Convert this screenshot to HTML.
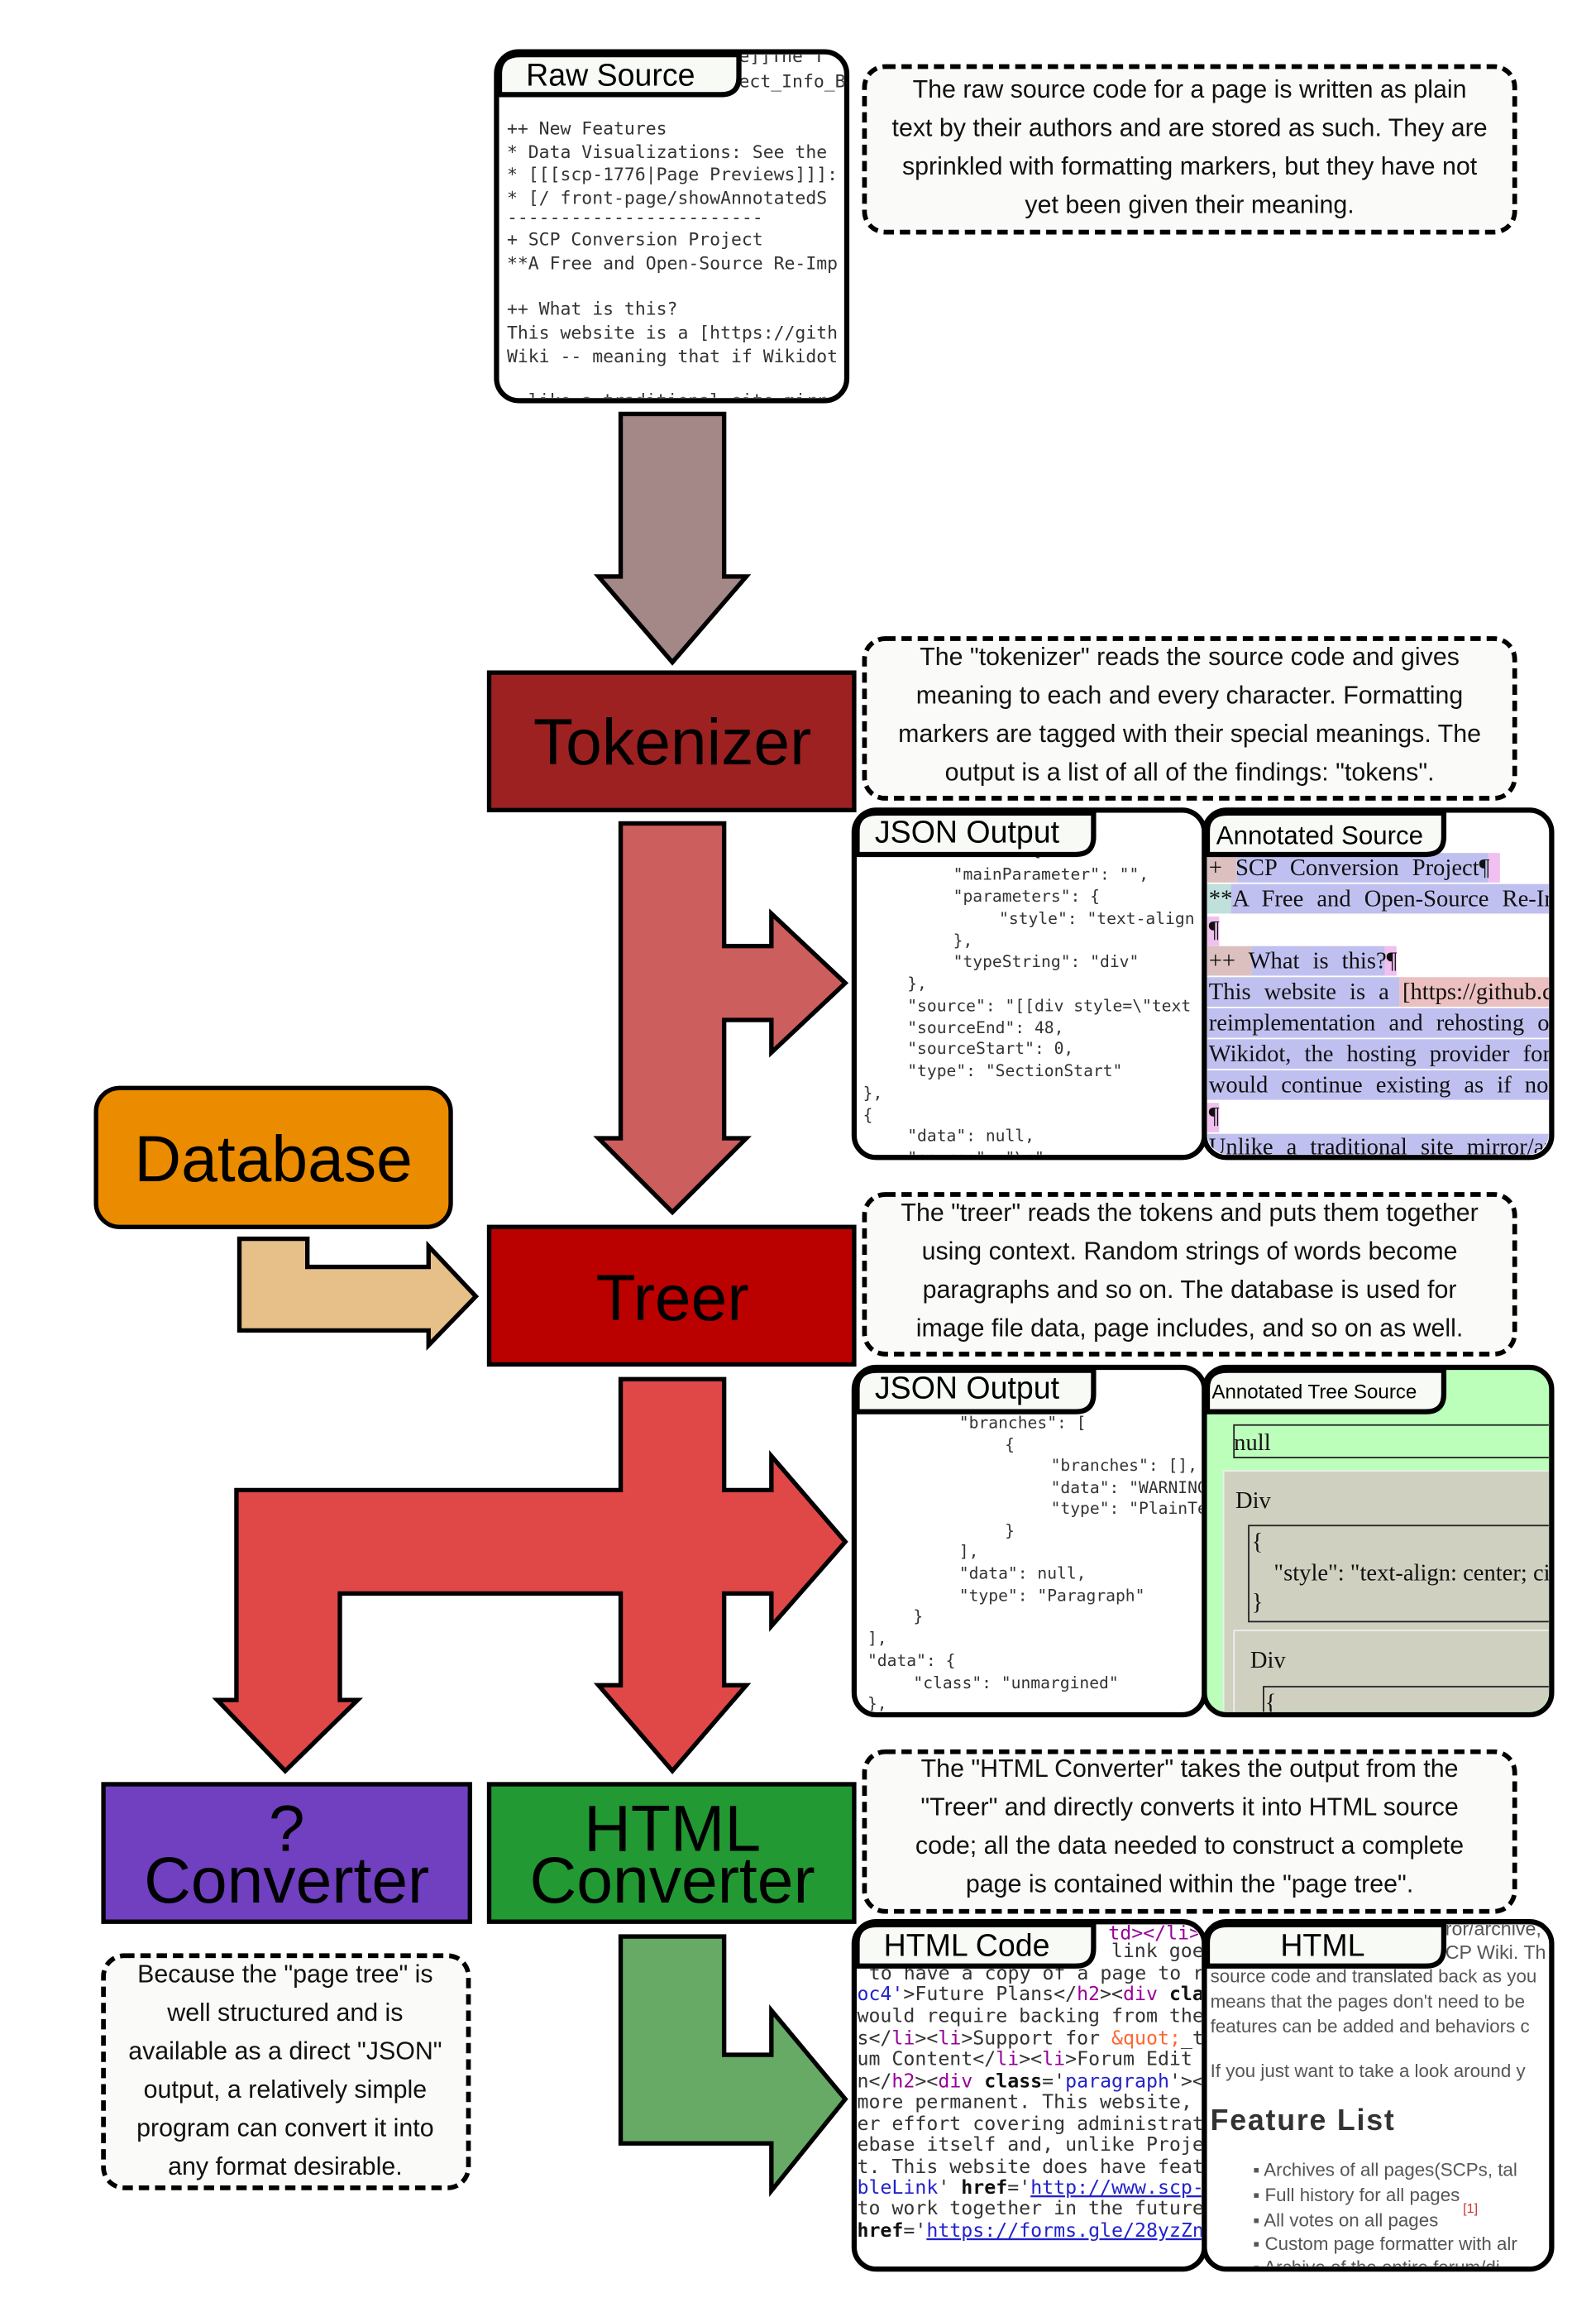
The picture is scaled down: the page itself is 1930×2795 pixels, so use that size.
<!DOCTYPE html>
<html><head><meta charset="utf-8"><style>
html,body{margin:0;padding:0;background:#fff;}
svg{display:block;}
.m{font-family:"DejaVu Sans Mono","Liberation Mono",monospace;fill:#333;}
.s{font-family:"Liberation Serif",serif;fill:#111;}
.a{font-family:"Liberation Sans",sans-serif;}
</style></head><body>
<svg width="1930" height="2795" viewBox="0 0 1080 1564" xmlns="http://www.w3.org/2000/svg">
<defs>
<clipPath id="c1"><rect x="338" y="37" width="233" height="232" rx="14"/></clipPath>
<clipPath id="c2"><rect x="580" y="550" width="233" height="231" rx="14"/></clipPath>
<clipPath id="c3"><rect x="817" y="550" width="231" height="231" rx="14"/></clipPath>
<clipPath id="c4"><rect x="580" y="927" width="233" height="231" rx="14"/></clipPath>
<clipPath id="c5"><rect x="817" y="927" width="231" height="231" rx="14"/></clipPath>
<clipPath id="c6"><rect x="580" y="1302" width="233" height="231" rx="14"/></clipPath>
<clipPath id="c7"><rect x="817" y="1302" width="231" height="231" rx="14"/></clipPath>
</defs>
<rect width="1080" height="1564" fill="#fff"/>

<!-- Raw source panel -->
<rect x="336" y="35" width="237" height="236" rx="15" fill="#fff"/>
<g clip-path="url(#c1)" class="m" font-size="12">
<text x="500" y="42">e]]The T</text>
<text x="500" y="59">ect_Info_B</text>
<text x="343" y="91">++ New Features</text>
<text x="343" y="107">* Data Visualizations: See the</text>
<text x="343" y="122">* [[[scp-1776|Page Previews]]]:</text>
<text x="343" y="138">* [/  front-page/showAnnotatedS</text>
<text x="343" y="151">------------------------</text>
<text x="343" y="166">+ SCP Conversion Project</text>
<text x="343" y="182">**A Free and Open-Source Re-Imp</text>
<text x="343" y="213">++ What is this?</text>
<text x="343" y="229">This website is a [https://gith</text>
<text x="343" y="245">Wiki -- meaning that if Wikidot</text>
<text x="343" y="275">, like a traditional site mirr</text>
</g>
<rect x="336" y="35" width="237" height="236" rx="15" fill="none" stroke="#000" stroke-width="3.5"/>
<path d="M338,64 L338,50 Q338,37 352,37 L500,37 L500,52 Q500,64 488,64 Z" fill="#f8faf6" stroke="#000" stroke-width="3.5"/>
<text x="356" y="58" class="a" font-size="21">Raw Source</text>

<!-- Bubbles -->
<g fill="#fafbf8" stroke="#000" stroke-width="3.2" stroke-dasharray="7 4">
<rect x="585" y="45" width="440" height="112" rx="14"/>
<rect x="585" y="432" width="440" height="108" rx="14"/>
<rect x="585" y="808" width="440" height="108" rx="14"/>
<rect x="585" y="1185" width="440" height="108" rx="14"/>
<rect x="70" y="1323" width="247" height="157" rx="14"/>
</g>
<g class="a" font-size="17" text-anchor="middle" fill="#111">
<text x="805" y="66">The raw source code for a page is written as plain</text>
<text x="805" y="92">text by their authors and are stored as such. They are</text>
<text x="805" y="118">sprinkled with formatting markers, but they have not</text>
<text x="805" y="144">yet been given their meaning.</text>
<text x="805" y="450">The "tokenizer" reads the source code and gives</text>
<text x="805" y="476">meaning to each and every character. Formatting</text>
<text x="805" y="502">markers are tagged with their special meanings. The</text>
<text x="805" y="528">output is a list of all of the findings: "tokens".</text>
<text x="805" y="826">The "treer" reads the tokens and puts them together</text>
<text x="805" y="852">using context. Random strings of words become</text>
<text x="805" y="878">paragraphs and so on. The database is used for</text>
<text x="805" y="904">image file data, page includes, and so on as well.</text>
<text x="805" y="1202">The "HTML Converter" takes the output from the</text>
<text x="805" y="1228">"Treer" and directly converts it into HTML source</text>
<text x="805" y="1254">code; all the data needed to construct a complete</text>
<text x="805" y="1280">page is contained within the "page tree".</text>
<text x="193" y="1341">Because the "page tree" is</text>
<text x="193" y="1367">well structured and is</text>
<text x="193" y="1393">available as a direct "JSON"</text>
<text x="193" y="1419">output, a relatively simple</text>
<text x="193" y="1445">program can convert it into</text>
<text x="193" y="1471">any format desirable.</text>
</g>

<!-- Arrows -->
<g stroke="#000" stroke-width="3" stroke-linejoin="miter">
<polygon fill="#a48888" points="420,280 490,280 490,390 505,390 455,448 405,390 420,390"/>
<polygon fill="#cd5e5e" points="420,557 490,557 490,640 522,640 522,618 572,665 522,712 522,690 490,690 490,770 505,770 455,820 405,770 420,770"/>
<polygon fill="#e6c088" points="162,838 208,838 208,857 290,857 290,843 322,877 290,910 290,900 162,900"/>
<polygon fill="#e04848" points="420,933 490,933 490,1008 522,1008 522,985 572,1043 522,1100 522,1078 490,1078 490,1140 505,1140 455,1198 405,1140 420,1140 420,1078 230,1078 230,1150 242,1150 193,1198 147,1150 160,1150 160,1008 420,1008"/>
<polygon fill="#66aa66" points="420,1310 490,1310 490,1390 522,1390 522,1360 572,1420 522,1482 522,1450 420,1450"/>
</g>

<!-- Process boxes -->
<g stroke="#000" stroke-width="3">
<rect x="331" y="455" width="247" height="93" fill="#9e2121"/>
<rect x="331" y="830" width="247" height="93" fill="#bb0000"/>
<rect x="70" y="1207" width="248" height="93" fill="#7040c0"/>
<rect x="331" y="1207" width="247" height="93" fill="#229933"/>
<rect x="65" y="736" width="240" height="94" rx="16" fill="#eb8c00"/>
</g>
<g class="a" text-anchor="middle" fill="#000">
<text x="455" y="517" font-size="44">Tokenizer</text>
<text x="455" y="893" font-size="44">Treer</text>
<text x="185" y="799" font-size="44">Database</text>
<text x="194" y="1252" font-size="44">?</text>
<text x="194" y="1287" font-size="44">Converter</text>
<text x="455" y="1252" font-size="44">HTML</text>
<text x="455" y="1287" font-size="44">Converter</text>
</g>

<!-- JSON Output 1 -->
<rect x="578" y="548" width="237" height="235" rx="15" fill="#fff"/>
<g clip-path="url(#c2)" class="m" font-size="11">
<text x="645" y="579">"data": {</text>
<text x="645" y="595">"mainParameter": "",</text>
<text x="645" y="610">"parameters": {</text>
<text x="676" y="625">"style": "text-align</text>
<text x="645" y="640">},</text>
<text x="645" y="654">"typeString": "div"</text>
<text x="614" y="669">},</text>
<text x="614" y="684">"source": "[[div style=\"text</text>
<text x="614" y="699">"sourceEnd": 48,</text>
<text x="614" y="713">"sourceStart": 0,</text>
<text x="614" y="728">"type": "SectionStart"</text>
<text x="584" y="743">},</text>
<text x="584" y="758">{</text>
<text x="614" y="772">"data": null,</text>
<text x="614" y="787">"source": "\n",</text>
</g>
<rect x="578" y="548" width="237" height="235" rx="15" fill="none" stroke="#000" stroke-width="3.5"/>
<path d="M580,578 L580,562 Q580,550 594,550 L740,550 L740,566 Q740,578 728,578 Z" fill="#f8faf6" stroke="#000" stroke-width="3.5"/>
<text x="592" y="570" class="a" font-size="21">JSON Output</text>

<!-- Annotated Source -->
<rect x="815" y="548" width="235" height="235" rx="15" fill="#fff"/>
<g clip-path="url(#c3)">
<rect x="817" y="577" width="20" height="20" fill="#dcc0c0"/>
<rect x="837" y="577" width="170" height="20" fill="#c0c0f0"/>
<rect x="1007" y="577" width="8" height="20" fill="#f0c0f0"/>
<rect x="817" y="598" width="16" height="20" fill="#c0e0dc"/>
<rect x="833" y="598" width="220" height="20" fill="#c0c0f0"/>
<rect x="817" y="620" width="8" height="20" fill="#f0c0f0"/>
<rect x="817" y="640" width="30" height="20" fill="#dcc0c0"/>
<rect x="847" y="640" width="90" height="20" fill="#c0c0f0"/>
<rect x="937" y="640" width="8" height="20" fill="#f0c0f0"/>
<rect x="817" y="661" width="130" height="20" fill="#c0c0f0"/>
<rect x="947" y="661" width="106" height="20" fill="#ecc0c0"/>
<rect x="817" y="682" width="236" height="20" fill="#c0c0f0"/>
<rect x="817" y="703" width="236" height="20" fill="#c0c0f0"/>
<rect x="817" y="724" width="236" height="20" fill="#c0c0f0"/>
<rect x="817" y="746" width="8" height="20" fill="#f0c0f0"/>
<rect x="817" y="767" width="236" height="20" fill="#c0c0f0"/>
<g class="s" font-size="16" word-spacing="5">
<text x="818" y="592">+ SCP Conversion Project¶</text>
<text x="818" y="613">**A Free and Open-Source Re-Imp</text>
<text x="818" y="634">¶</text>
<text x="818" y="655">++ What is this?¶</text>
<text x="818" y="676">This website is a [https://github.com</text>
<text x="818" y="697">reimplementation and rehosting of</text>
<text x="818" y="718">Wikidot, the hosting provider for</text>
<text x="818" y="739">would continue existing as if not</text>
<text x="818" y="760">¶</text>
<text x="818" y="781">Unlike a traditional site mirror/ar</text>
</g>
</g>
<rect x="815" y="548" width="235" height="235" rx="15" fill="none" stroke="#000" stroke-width="3.5"/>
<path d="M817,578 L817,562 Q817,550 831,550 L977,550 L977,566 Q977,578 965,578 Z" fill="#f8faf6" stroke="#000" stroke-width="3.5"/>
<text x="823" y="571" class="a" font-size="17.5">Annotated Source</text>

<!-- JSON Output 2 -->
<rect x="578" y="925" width="237" height="235" rx="15" fill="#fff"/>
<g clip-path="url(#c4)" class="m" font-size="11">
<text x="649" y="966">"branches": [</text>
<text x="680" y="981">{</text>
<text x="711" y="995">"branches": [],</text>
<text x="711" y="1010">"data": "WARNING</text>
<text x="711" y="1024">"type": "PlainText"</text>
<text x="680" y="1039">}</text>
<text x="649" y="1053">],</text>
<text x="649" y="1068">"data": null,</text>
<text x="649" y="1083">"type": "Paragraph"</text>
<text x="618" y="1097">}</text>
<text x="587" y="1112">],</text>
<text x="587" y="1127">"data": {</text>
<text x="618" y="1142">"class": "unmargined"</text>
<text x="587" y="1156">},</text>
</g>
<rect x="578" y="925" width="237" height="235" rx="15" fill="none" stroke="#000" stroke-width="3.5"/>
<path d="M580,955 L580,939 Q580,927 594,927 L740,927 L740,943 Q740,955 728,955 Z" fill="#f8faf6" stroke="#000" stroke-width="3.5"/>
<text x="592" y="946" class="a" font-size="21">JSON Output</text>

<!-- Annotated Tree Source -->
<rect x="815" y="925" width="235" height="235" rx="15" fill="#bbffbb"/>
<g clip-path="url(#c5)">
<rect x="835" y="964" width="220" height="22" fill="#bbffbb" stroke="#222" stroke-width="1"/>
<text x="835" y="981" class="s" font-size="16">null</text>
<rect x="828" y="995" width="230" height="170" fill="#d0d0c0" stroke="#eee" stroke-width="1"/>
<text x="836" y="1020" class="s" font-size="16">Div</text>
<rect x="845" y="1032" width="210" height="65" fill="#d0d0c0" stroke="#222" stroke-width="1"/>
<text x="847" y="1048" class="s" font-size="16">{</text>
<text x="862" y="1069" class="s" font-size="16">"style": "text-align: center; ci</text>
<text x="847" y="1089" class="s" font-size="16">}</text>
<rect x="835" y="1103" width="220" height="60" fill="#d0d0c0" stroke="#eee" stroke-width="1"/>
<text x="846" y="1128" class="s" font-size="16">Div</text>
<rect x="855" y="1141" width="200" height="30" fill="#d0d0c0" stroke="#222" stroke-width="1"/>
<text x="856" y="1157" class="s" font-size="16">{</text>
</g>
<rect x="815" y="925" width="235" height="235" rx="15" fill="none" stroke="#000" stroke-width="3.5"/>
<path d="M817,955 L817,939 Q817,927 831,927 L977,927 L977,943 Q977,955 965,955 Z" fill="#f8faf6" stroke="#000" stroke-width="3.5"/>
<text x="820" y="946" class="a" font-size="13.5">Annotated Tree Source</text>

<!-- HTML Code -->
<rect x="578" y="1300" width="237" height="235" rx="15" fill="#fff"/>
<g clip-path="url(#c6)" class="m" font-size="13">
<text x="750" y="1312" fill="#909">td&gt;&lt;/li&gt;</text>
<text x="752" y="1324">link goes</text>
<text x="588" y="1339">to have a copy of a page to rea</text>
<text x="580" y="1353"><tspan fill="#22c">oc4'</tspan>&gt;Future Plans&lt;/<tspan fill="#909">h2</tspan>&gt;&lt;<tspan fill="#909">div</tspan> <tspan font-weight="bold" fill="#111">class</tspan></text>
<text x="580" y="1368">would require backing from the S</text>
<text x="580" y="1383">s&lt;/<tspan fill="#909">li</tspan>&gt;&lt;<tspan fill="#909">li</tspan>&gt;Support for <tspan fill="#f63">&amp;quot;</tspan>_tem</text>
<text x="580" y="1397">um Content&lt;/<tspan fill="#909">li</tspan>&gt;&lt;<tspan fill="#909">li</tspan>&gt;Forum Edit Hi</text>
<text x="580" y="1412">n&lt;/<tspan fill="#909">h2</tspan>&gt;&lt;<tspan fill="#909">div</tspan> <tspan font-weight="bold" fill="#111">class</tspan>='<tspan fill="#22c">paragraph</tspan>'&gt;&lt;<tspan fill="#909">a</tspan></text>
<text x="580" y="1426">more permanent. This website, wh</text>
<text x="580" y="1441">er effort covering administratio</text>
<text x="580" y="1455">ebase itself and, unlike Project</text>
<text x="580" y="1470">t. This website does have featur</text>
<text x="580" y="1484"><tspan fill="#22c">bleLink</tspan>' <tspan font-weight="bold" fill="#111">href</tspan>='<tspan fill="#22c" text-decoration="underline">http://www.scp-wi</tspan></text>
<text x="580" y="1498"> to work together in the future</text>
<text x="580" y="1513">  <tspan font-weight="bold" fill="#111">href</tspan>='<tspan fill="#22c" text-decoration="underline">https://forms.gle/28yzZn</tspan></text>
</g>
<rect x="578" y="1300" width="237" height="235" rx="15" fill="none" stroke="#000" stroke-width="3.5"/>
<path d="M580,1330 L580,1314 Q580,1302 594,1302 L740,1302 L740,1318 Q740,1330 728,1330 Z" fill="#f8faf6" stroke="#000" stroke-width="3.5"/>
<text x="598" y="1323" class="a" font-size="21">HTML Code</text>

<!-- HTML -->
<rect x="815" y="1300" width="235" height="235" rx="15" fill="#fff"/>
<g clip-path="url(#c7)" class="a" fill="#555">
<text x="978" y="1309" font-size="13">ror/archive,</text>
<text x="978" y="1325" font-size="13">CP Wiki. Th</text>
<text x="819" y="1341" font-size="12.5">source code and translated back as you</text>
<text x="819" y="1358" font-size="12.5">means that the pages don't need to be</text>
<text x="819" y="1375" font-size="12.5">features can be added and behaviors c</text>
<text x="819" y="1405" font-size="12.5">If you just want to take a look around y</text>
<text x="819" y="1441" font-size="20" font-weight="bold" fill="#333" letter-spacing="1">Feature List</text>
<g font-size="12.5">
<text x="848" y="1472">▪ Archives of all pages(SCPs, tal</text>
<text x="848" y="1489">▪ Full history for all pages</text>
<text x="848" y="1506">▪ All votes on all pages</text>
<text x="990" y="1497" font-size="9" fill="#c33">[1]</text>
<text x="848" y="1522">▪ Custom page formatter with alr</text>
<text x="848" y="1538">▪ Archive of the entire forum/di</text>
</g>
</g>
<rect x="815" y="1300" width="235" height="235" rx="15" fill="none" stroke="#000" stroke-width="3.5"/>
<path d="M817,1330 L817,1314 Q817,1302 831,1302 L977,1302 L977,1318 Q977,1330 965,1330 Z" fill="#f8faf6" stroke="#000" stroke-width="3.5"/>
<text x="895" y="1323" class="a" font-size="21" text-anchor="middle">HTML</text>
</svg>
</body></html>
